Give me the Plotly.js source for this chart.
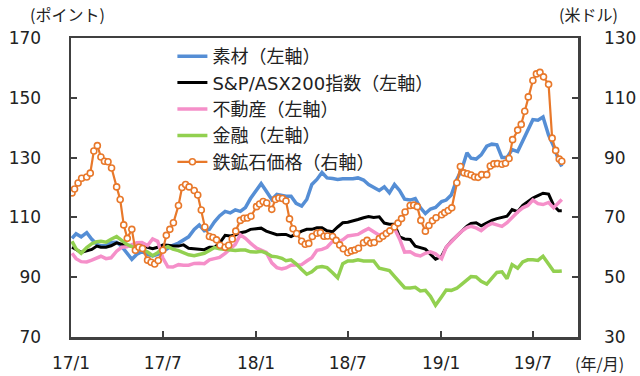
<!DOCTYPE html>
<html><head><meta charset="utf-8">
<script src="https://cdn.plot.ly/plotly-3.0.1.min.js"></script>
<style>html,body{margin:0;padding:0;background:#fff}#chart{width:640px;height:376px}</style>
</head><body><div id="chart"></div>
<script>
const dates = [
'2017-01-03','2017-01-11','2017-01-21','2017-02-01','2017-02-11','2017-02-21',
'2017-03-01','2017-03-11','2017-03-21','2017-04-01','2017-04-11','2017-04-21',
'2017-05-01','2017-05-11','2017-05-21','2017-06-01','2017-06-11','2017-06-21',
'2017-07-01','2017-07-11','2017-07-21','2017-08-01','2017-08-11','2017-08-21',
'2017-09-01','2017-09-11','2017-09-21','2017-10-01','2017-10-11','2017-10-21',
'2017-11-01','2017-11-11','2017-11-21','2017-12-01','2017-12-11','2017-12-21',
'2018-01-02','2018-01-11','2018-01-21','2018-02-01','2018-02-11','2018-02-21',
'2018-03-01','2018-03-11','2018-03-21','2018-04-01','2018-04-11','2018-04-21',
'2018-05-01','2018-05-11','2018-05-21','2018-06-01','2018-06-11','2018-06-21',
'2018-07-01','2018-07-11','2018-07-21','2018-08-01','2018-08-11','2018-08-21',
'2018-09-01','2018-09-11','2018-09-21','2018-10-01','2018-10-11','2018-10-21',
'2018-11-01','2018-11-11','2018-11-21','2018-12-01','2018-12-11','2018-12-21',
'2019-01-02','2019-01-11','2019-01-21','2019-02-01','2019-02-11','2019-02-21',
'2019-03-01','2019-03-11','2019-03-21','2019-04-01','2019-04-11','2019-04-21',
'2019-05-01','2019-05-11','2019-05-21','2019-06-01','2019-06-11','2019-06-21',
'2019-07-01','2019-07-11','2019-07-21','2019-08-01','2019-08-11','2019-08-21','2019-08-27'];

const materials = [
103,104.5,103.5, 104.9,102.7,101, 100.5,100.5,101.6, 101.7,100.3,98.2,
96,97.7,98.5, 97.6,97.1,97.6, 98.6,99.9,100.7, 101.4,102.4,103.5,
106,107.5,105.5, 106,108.5,110.5, 112,111.5,112.5, 112,113.3,116.3,
119.2,121.3,118.8, 116,117.7,117.4, 117.1,117.1,114.7, 113.8,116,121,
122.7,125,123.2, 123,122.7,122.9, 122.9,122.9,123.2, 122.5,121,120,
119,120.2,118.2, 121,119,116.1, 115.8,116.3,113.3, 111.3,112.8,113.3,
115.3,115.8,117.5, 122.7,126.2,131.6, 129.8,129.5,130.9, 133.8,134.5,134.3,
130,130,132.7, 132,135.6,139.6, 142.7,142.5,143.6, 137.5,133.8,129.1,127];

const asx200 = [
100,99.3,98.3, 98.8,99.3,100.4, 100,100,100.5, 101.5,101,100.5,
100.5,100,100.5, 100,99.5,100, 100.8,100.7,100.4, 100.4,100.8,99.7,
99.6,99.4,99.2, 100,100,101.4, 104,103.8,104.1, 104.9,105.2,106,
106.2,106.4,105.4, 104.9,104.2,104.3, 104.3,103.6,104.5, 105.4,106,106,
106.5,106.5,105.5, 105.2,106.8,108.2, 108.4,108.8,109.3, 109.9,110.3,110,
110.2,108.1,107.7, 107.7,103.5,102.8, 102.6,100.4,99.9, 99.4,97.7,96,
97,100,102, 103.8,105.5,107.1, 108,108.2,107.2, 108.2,109,109.6,
110,110.4,112.6, 111.9,114,115.4, 116.5,117.3,118.1, 117.8,114,112.2,112.2];

const realEstate = [
98,96.2,95.2, 95.1,95.7,96.6, 97,96.2,96.5, 98.7,100,100.2,
100.7,101.5,101.6, 100.6,102.8,102, 96.5,93.5,93.4, 94.2,94,94,
94.6,94.7,94.5, 95.8,96.2,96.6, 98,99.4,101, 104.2,103,101.4,
99.7,99.1,98.3, 94.8,93.2,92.8, 93.1,94,94.1, 94.2,95.4,96.5,
99,99.3,100, 102,101.8,102.5, 103.8,104,104.3, 105.4,106.3,105.2,
104,104.8,106, 106.3,102.8,98.4, 98.5,97.5,97.1, 98,98.5,97.8,
96.2,100,102, 103.8,105.4,106.6, 107,106.5,105.6, 107.1,108,107.4,
107,108.2,110, 111.8,113.2,114, 115.8,114.6,114.3, 115,113.2,115.1,116];

const financials = [
102,99.5,98, 99.9,101.2,101.9, 102,101.7,102.7, 103.6,102.3,101,
100.2,99.7,99.4, 98.4,97.2,98.2, 99.6,100.2,99.4, 98.9,98.2,97.5,
97.2,97.6,98, 98.9,99.9,99.5, 99.2,99,98.9, 99.1,99.1,98.5,
98.4,98.7,98.1, 97,96.8,96.3, 95.5,95.8,94.5, 92.6,91,91.8,
93.3,93.6,93.2, 91.5,89.8,94.5, 95.4,95.4,95.8, 95.4,95.5,95.4,
93,92.6,92.2, 90.3,88.2,86.5, 86.4,86.6,85.4, 85.6,83.6,80.6,
83.5,85.7,85.6, 86.3,87.7,89.3, 90.2,90.1,88.6, 87.7,89.7,91.6,
91.8,89.5,94.2, 93,95.1,95.8, 95.8,95.6,97, 94.6,92,92,92.1];

const oreDates = [
'2017-01-03','2017-01-08','2017-01-15','2017-01-22','2017-02-01','2017-02-08','2017-02-15','2017-02-22',
'2017-03-01','2017-03-08','2017-03-15','2017-03-22','2017-04-01','2017-04-08','2017-04-15','2017-04-22',
'2017-05-01','2017-05-08','2017-05-15','2017-05-22','2017-06-01','2017-06-08','2017-06-15','2017-06-22',
'2017-07-01','2017-07-08','2017-07-15','2017-07-22','2017-08-01','2017-08-08','2017-08-15','2017-08-22',
'2017-09-01','2017-09-08','2017-09-15','2017-09-22','2017-10-01','2017-10-08','2017-10-15','2017-10-22',
'2017-11-01','2017-11-08','2017-11-15','2017-11-22','2017-12-01','2017-12-08','2017-12-15','2017-12-22',
'2018-01-02','2018-01-08','2018-01-15','2018-01-22','2018-02-01','2018-02-08','2018-02-15','2018-02-22',
'2018-03-01','2018-03-08','2018-03-15','2018-03-22','2018-04-01','2018-04-08','2018-04-15','2018-04-22',
'2018-05-01','2018-05-08','2018-05-15','2018-05-22','2018-06-01','2018-06-08','2018-06-15','2018-06-22',
'2018-07-01','2018-07-08','2018-07-15','2018-07-22','2018-08-01','2018-08-08','2018-08-15','2018-08-22',
'2018-09-01','2018-09-08','2018-09-15','2018-09-22','2018-10-01','2018-10-08','2018-10-15','2018-10-22',
'2018-11-01','2018-11-08','2018-11-15','2018-11-22','2018-12-01','2018-12-08','2018-12-15','2018-12-22',
'2019-01-02','2019-01-08','2019-01-15','2019-01-22','2019-02-01','2019-02-08','2019-02-15','2019-02-22',
'2019-03-01','2019-03-08','2019-03-15','2019-03-22','2019-04-01','2019-04-08','2019-04-15','2019-04-22',
'2019-05-01','2019-05-08','2019-05-15','2019-05-22','2019-06-01','2019-06-08','2019-06-15','2019-06-22',
'2019-07-01','2019-07-08','2019-07-15','2019-07-22','2019-08-01','2019-08-08','2019-08-15','2019-08-22','2019-08-27'];

const ironOre = [
78.2,79.5,81.5,83.1, 83.5,84.8,92.2,94, 90.2,88.8,88.6,86.5, 80.2,76,67.5,63,
66,59,60,59.6, 55.7,55,54.4,55.6, 59,64,66,68.2, 74,80,81,80.2,
79,77.5,72.5,66.8, 63.6,63.3,62.5,60.7, 60,60.7,62.8,65.4, 69,69.7,69.8,70.4,
73.6,74.5,75.3,74.8, 72.7,76,76.5,76.3, 75.5,69.5,66.2,64.6, 62,61,61.3,63.6,
64.7,64.9,63.7,63.8, 63.6,62.3,60.8,59.5, 58.2,58.8,59.1,59.7, 61.5,62.3,61.4,61.6,
62.9,63.7,64.6,65.5, 66.8,68.1,69.6,71.8, 74,74.1,73.6,69, 65.4,67.3,68.9,69.9,
70.9,71.6,72.3,73.2, 81.6,87,84.9,84.6, 84.2,83.5,83.4,84.3, 84.3,87.2,87.9,88,
87.8,88.1,89.7,96, 99.2,101.1,105.5,110.3, 115.8,118,118.5,117, 114.5,96.5,92.4,89.5,88.8];

const seriesNames = ['素材（左軸）','S&P/ASX200指数（左軸）','不動産（左軸）','金融（左軸）','鉄鉱石価格（右軸）'];
const tickDates = ['2017-01-01','2017-07-01','2018-01-01','2018-07-01','2019-01-01','2019-07-01'];
const tickLabels = ['17/1','17/7','18/1','18/7','19/1','19/7'];
const leftTicks = [70,90,110,130,150,170];
const rightTicks = [30,50,70,90,110,130];

const axisColor = '#404040';
const numFont = {family:'DejaVu Sans, Verdana, sans-serif', size:17, color:'#222'};
const jpFont = {family:'Noto Sans CJK JP, sans-serif', size:16, color:'#222'};

const traces = [
 {x:dates, y:materials, name:seriesNames[0], mode:'lines', line:{color:'#558ED5', width:3.5}},
 {x:dates, y:asx200, name:seriesNames[1], mode:'lines', line:{color:'#000000', width:3}},
 {x:dates, y:realEstate, name:seriesNames[2], mode:'lines', line:{color:'#F58FC9', width:3.5}},
 {x:dates, y:financials, name:seriesNames[3], mode:'lines', line:{color:'#92D050', width:3.5}},
 {x:oreDates, y:ironOre, name:seriesNames[4], yaxis:'y2', mode:'lines+markers',
  line:{color:'#E8782A', width:2.2},
  marker:{symbol:'circle', size:6, color:'#ffffff', line:{color:'#E8782A', width:1.6}}}
];

const layout = {
 width:640, height:376,
 margin:{l:71, r:62, t:38, b:39},
 paper_bgcolor:'#fff', plot_bgcolor:'#fff',
 showlegend:true,
 legend:{x:0.2, y:1, xanchor:'left', yanchor:'top', bgcolor:'rgba(0,0,0,0)',
   font:{family:'DejaVu Sans, Noto Sans CJK JP, sans-serif', size:18, color:'#222'}, tracegroupgap:0},
 xaxis:{type:'date', range:['2017-01-01','2019-09-28'], tickmode:'array', tickvals:tickDates, ticktext:tickLabels,
   ticks:'inside', ticklen:6, tickwidth:2, tickcolor:axisColor, showline:true, linecolor:axisColor, linewidth:2.5,
   mirror:true, showgrid:false, zeroline:false, tickfont:numFont, ticklabelstandoff:9},
 yaxis:{range:[70,170], tickmode:'array', tickvals:leftTicks, ticks:'inside', ticklen:6, tickwidth:2, tickcolor:axisColor,
   showline:true, linecolor:axisColor, linewidth:2.5, showgrid:false, zeroline:false, tickfont:numFont, ticklabelstandoff:24},
 yaxis2:{range:[30,130], overlaying:'y', side:'right', tickmode:'array', tickvals:rightTicks, ticks:'inside', ticklen:6, tickwidth:2,
   tickcolor:axisColor, showline:true, linecolor:axisColor, linewidth:2.5, showgrid:false, zeroline:false, tickfont:numFont, ticklabelstandoff:20},
 annotations:[
  {text:'(ポイント)', xref:'paper', yref:'paper', x:-0.085, y:1.0, xanchor:'left', yanchor:'bottom', yshift:10, showarrow:false, font:jpFont},
  {text:'(米ドル)', xref:'paper', yref:'paper', x:0.958, y:1.0, xanchor:'left', yanchor:'bottom', yshift:10, showarrow:false, font:jpFont},
  {text:'(年/月)', xref:'paper', yref:'paper', x:0.99, y:0, xanchor:'left', yanchor:'top', yshift:-12, showarrow:false, font:jpFont}
 ]
};

Plotly.newPlot('chart', traces, layout, {displayModeBar:false, staticPlot:true});
</script></body></html>
